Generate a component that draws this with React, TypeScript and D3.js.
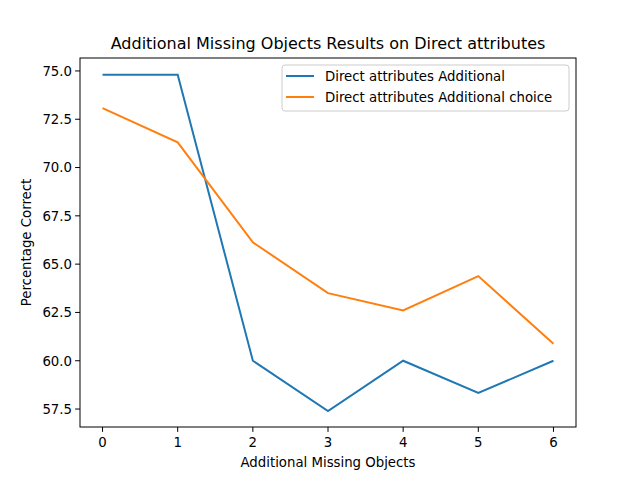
import React from "react";
import * as d3 from "d3";

const xs = [0, 1, 2, 3, 4, 5, 6];
const blue = [74.8, 74.8, 60.0, 57.4, 60.0, 58.33, 60.0];
const orange = [73.08, 71.3, 66.13, 63.5, 62.6, 64.38, 60.88];
const yTicks = [57.5, 60.0, 62.5, 65.0, 67.5, 70.0, 72.5, 75.0];
const series = [
  { name: "Direct attributes Additional", values: blue, color: "#1f77b4" },
  { name: "Direct attributes Additional choice", values: orange, color: "#ff7f0e" },
];

export default function App() {
  const L = 80, R = 576, T = 58, B = 427;
  const x = d3.scaleLinear().domain([-0.3, 6.3]).range([L, R]);
  const y = d3.scaleLinear().domain([56.57, 75.67]).range([B, T]);
  const line = d3.line<number>().x((_, i) => x(xs[i])).y((d) => y(d));
  const font = "DejaVu Sans";
  const fs = 13.3;
  return (
    <svg width={640} height={480} style={{ position: "absolute", left: 0, top: 0 }} fontFamily={font}>
      <rect width={640} height={480} fill="white" />
      {series.map((s) => (
        <path key={s.name} d={line(s.values)!} fill="none" stroke={s.color} strokeWidth={2} />
      ))}
      <rect x={L} y={T} width={R - L} height={B - T} fill="none" stroke="black" strokeWidth={1} />
      {xs.map((t) => (
        <g key={t}>
          <line x1={x(t)} x2={x(t)} y1={B} y2={B + 4.9} stroke="black" strokeWidth={1} />
          <text x={x(t)} y={B + 20} fontSize={fs} textAnchor="middle">{t}</text>
        </g>
      ))}
      {yTicks.map((t) => (
        <g key={t}>
          <line x1={L - 4.9} x2={L} y1={y(t)} y2={y(t)} stroke="black" strokeWidth={1} />
          <text x={L - 8} y={y(t) + 4.8} fontSize={fs} textAnchor="end">{t.toFixed(1)}</text>
        </g>
      ))}
      <text x={(L + R) / 2} y={467} fontSize={fs} textAnchor="middle">Additional Missing Objects</text>
      <text transform={`translate(31,${(T + B) / 2}) rotate(-90)`} fontSize={fs} textAnchor="middle">Percentage Correct</text>
      <text x={(L + R) / 2} y={49} fontSize={16} textAnchor="middle">Additional Missing Objects Results on Direct attributes</text>
      <rect x={282} y={65} width={287} height={46} fill="white" fillOpacity={0.8} stroke="#cccccc" rx={3} />
      {series.map((s, i) => (
        <g key={s.name}>
          <line x1={286} x2={314} y1={76 + i * 21} y2={76 + i * 21} stroke={s.color} strokeWidth={2} />
          <text x={325} y={80.5 + i * 21} fontSize={fs}>{s.name}</text>
        </g>
      ))}
    </svg>
  );
}
